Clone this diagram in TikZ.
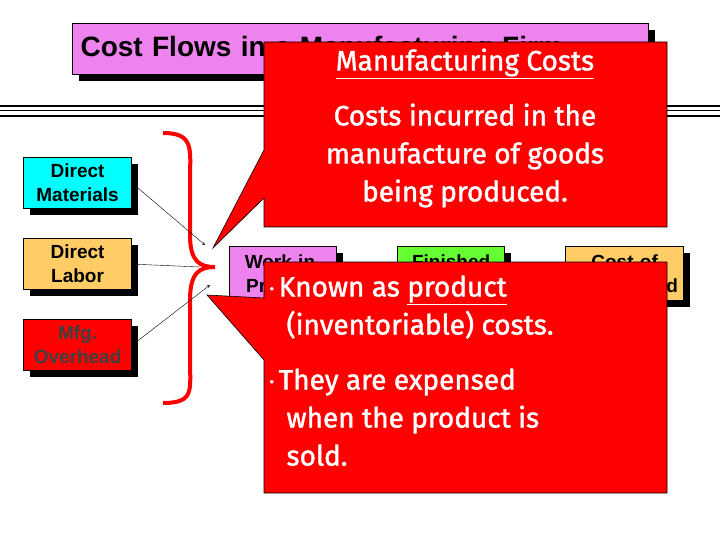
\documentclass[tikz,border=0pt]{standalone}
\usepackage{fontspec}
\setmainfont{Liberation Sans}
\newfontfamily\callfont[FakeBold=1.5]{Fira Sans}
\usepackage{xcolor}
\definecolor{violetbox}{HTML}{EE82EE}
\definecolor{orangebox}{HTML}{FFCC66}
\definecolor{greenbox}{HTML}{66FF33}
\definecolor{cyanbox}{HTML}{00FFFF}
\definecolor{calloutred}{HTML}{FF0000}
\tikzset{
  costbox/.style={draw=black, line width=1.2pt, minimum width=108pt, minimum height=51pt,
    align=center, font=\bfseries\fontsize{19}{24}\selectfont, inner sep=1pt,
    drop shadow={shadow xshift=6pt, shadow yshift=-6pt, fill=black, opacity=1}},
  callout/.style={fill=calloutred, draw=black, line width=0.6pt},
  calltext/.style={text=white, font=\callfont\fontsize{28}{38}\selectfont, align=center}
}
\usetikzlibrary{shadows}
\begin{document}
\begin{tikzpicture}[x=1pt,y=-1pt]
\useasboundingbox (0,0) rectangle (720,540);
% title and rules
\node[costbox, fill=violetbox, minimum width=576pt, minimum height=51pt, anchor=north west,
  font=\bfseries\fontsize{28}{30}\selectfont, text width=560pt, align=left] (title) at (72,23)
  {Cost Flows in a Manufacturing Firm};
\foreach \y/\w in {106/2.2pt,111/1pt,116/2.2pt} {
\draw[line width=\w] (0,\y)--(720,\y);
}
% cost boxes
\node[costbox, fill=cyanbox, anchor=north west] (dm) at (23,157) {Direct\\Materials};
\node[costbox, fill=orangebox, anchor=north west] (dl) at (23,238) {Direct\\Labor};
\node[costbox, fill=calloutred, anchor=north west, text=black!75] (mo) at (23,319) {Mfg.\\Overhead};
\node[costbox, fill=violetbox, anchor=north west, minimum width=107pt, minimum height=54pt] (wip) at (229,246) {Work-in-\\Process};
\node[costbox, fill=greenbox, anchor=north west, minimum width=107pt, minimum height=54pt] (fg) at (397,246) {Finished\\Goods};
\node[costbox, fill=orangebox, anchor=north west, minimum width=118pt, minimum height=54pt] (cgs) at (565,246) {Cost-of\\Goods Sold};
% brace
\coordinate (tip) at (215,267);
\draw[calloutred, line width=4pt] (163,133) .. controls (195,133) and (190,150) .. (190,180)
  -- (190,235) .. controls (190,262) and (200,267) .. (tip)
  .. controls (200,267) and (190,272) .. (190,300) -- (190,360)
  .. controls (190,390) and (195,403) .. (163,403);
\coordinate (a1) at (205,245);
\coordinate (a2) at (200,267);
\coordinate (a3) at (210,285);
\draw[-stealth] (dm.east) -- (a1);
\draw (dl.east) -- (a2);
\draw[-stealth] (mo.east) -- (a3);
% callouts
\draw[callout] (264,42) -- (667,42) -- (667,227) -- (264,227) -- (264,198) -- (213,248) -- (264,150) -- cycle;
\node[calltext, anchor=north] (head) at (465,45) {\underline{Manufacturing Costs}};
\node[calltext, anchor=north] (def) at (465,100) {Costs incurred in the\\manufacture of goods\\being produced.};
\draw[callout] (264,262) -- (667,262) -- (667,493) -- (264,493) -- (264,360) -- (207,295) -- (264,298) -- cycle;
\node[calltext, anchor=north west, align=left] (known) at (266,272)
  {\raisebox{3pt}{\fontsize{14}{14}\selectfont•}\,Known as \underline{product}\\\hspace*{17pt}(inventoriable) costs.};
\node[calltext, anchor=north west, align=left] (sold) at (266,365)
  {\raisebox{3pt}{\fontsize{14}{14}\selectfont•}\,They are expensed\\\hspace*{17pt}when the product is\\\hspace*{17pt}sold.};
\end{tikzpicture}
\end{document}
